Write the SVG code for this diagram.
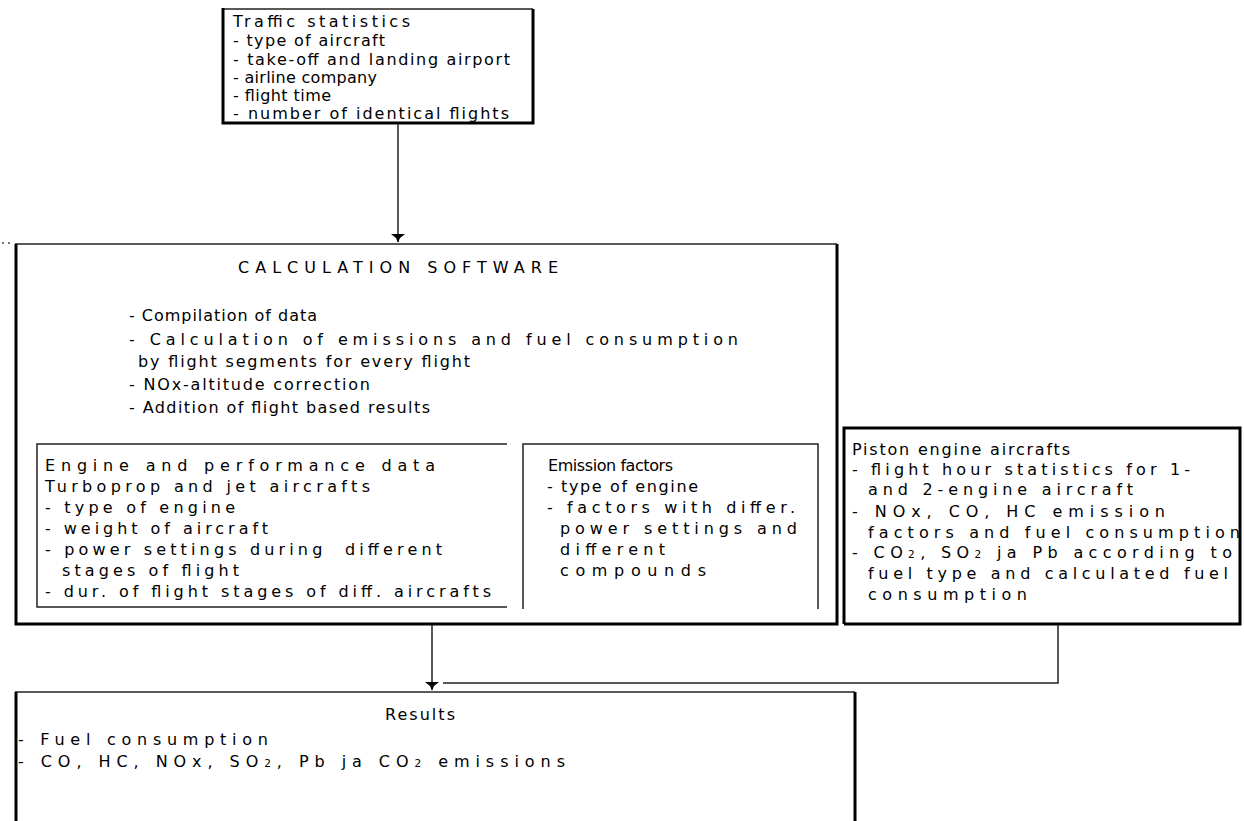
<svg xmlns="http://www.w3.org/2000/svg" width="1244" height="821" viewBox="0 0 1244 821">
<style>
text{font-family:"DejaVu Sans","Liberation Sans",Arial,sans-serif;font-size:16px;fill:#000}
.thin{stroke:#222;stroke-width:1.5;fill:none}
.thick{stroke:#000;stroke-width:3;fill:none}
.conn{stroke:#222;stroke-width:1.5;fill:none}
.sub{font-size:10.5px}
</style>
<defs>
<marker id="ah" markerWidth="16" markerHeight="10" refX="8" refY="9" orient="0" markerUnits="userSpaceOnUse" viewBox="0 0 16 10">
<path d="M1,1 L15,1 L10,5 L8,9.5 L6,5 Z" fill="#000"/>
</marker>
</defs>
<rect width="1244" height="821" fill="#fff"/>
<g id="dots"><circle cx="3" cy="243" r="0.9" fill="#333"/><circle cx="9" cy="243" r="0.9" fill="#333"/></g>

<g id="traffic">
<path class="thin" d="M223,9 H533"/>
<path class="thick" d="M223,8 V123 H533 V9"/>
<text x="233" y="27" textLength="177" lengthAdjust="spacing">Traffic statistics</text>
<text x="233" y="46" textLength="152" lengthAdjust="spacing">- type of aircraft</text>
<text x="233" y="65" textLength="277" lengthAdjust="spacing">- take-off and landing airport</text>
<text x="233" y="83" textLength="144" lengthAdjust="spacing">- airline company</text>
<text x="233" y="101" textLength="98" lengthAdjust="spacing">- flight time</text>
<text x="233" y="119" textLength="276" lengthAdjust="spacing">- number of identical flights</text>
</g>

<g id="calc">
<path class="thin" d="M15,244 H837"/>
<path class="thick" d="M16,244 V624 H837 V244"/>
<text x="238" y="273" textLength="320" lengthAdjust="spacing">CALCULATION SOFTWARE</text>
<text x="129" y="321" textLength="188" lengthAdjust="spacing">- Compilation of data</text>
<text x="129" y="345" textLength="609" lengthAdjust="spacing">- Calculation of emissions and fuel consumption</text>
<text x="138" y="367" textLength="332" lengthAdjust="spacing">by flight segments for every flight</text>
<text x="129" y="390" textLength="241" lengthAdjust="spacing">- NOx-altitude correction</text>
<text x="129" y="413" textLength="301" lengthAdjust="spacing">- Addition of flight based results</text>
</g>

<g id="engine">
<path class="thin" d="M507,444 H37 V607 H507"/>
<text x="45" y="471" textLength="390" lengthAdjust="spacing">Engine and performance data</text>
<text x="45" y="492" textLength="325" lengthAdjust="spacing">Turboprop and jet aircrafts</text>
<text x="45" y="513" textLength="190" lengthAdjust="spacing">- type of engine</text>
<text x="45" y="534" textLength="223" lengthAdjust="spacing">- weight of aircraft</text>
<text x="45" y="555" textLength="397" lengthAdjust="spacing" xml:space="preserve">- power settings during  different</text>
<text x="62" y="576" textLength="177" lengthAdjust="spacing">stages of flight</text>
<text x="45" y="597" textLength="446" lengthAdjust="spacing">- dur. of flight stages of diff. aircrafts</text>
</g>

<g id="emission">
<path class="thin" d="M523,609 V444 H818 V609"/>
<text x="548" y="471" textLength="125" lengthAdjust="spacing">Emission factors</text>
<text x="547" y="492" textLength="151" lengthAdjust="spacing">- type of engine</text>
<text x="547" y="513" textLength="248" lengthAdjust="spacing">- factors with differ.</text>
<text x="560" y="534" textLength="237" lengthAdjust="spacing">power settings and</text>
<text x="560" y="555" textLength="105" lengthAdjust="spacing">different</text>
<text x="560" y="576" textLength="146" lengthAdjust="spacing">compounds</text>
</g>

<g id="piston">
<path class="thick" d="M844,624 V428 H1240 V624 H844"/>
<text x="852" y="455" textLength="218" lengthAdjust="spacing">Piston engine aircrafts</text>
<text x="852" y="475" textLength="338" lengthAdjust="spacing">- flight hour statistics for 1-</text>
<text x="868" y="495" textLength="265" lengthAdjust="spacing">and 2-engine aircraft</text>
<text x="852" y="517" textLength="313" lengthAdjust="spacing">- NOx, CO, HC emission</text>
<text x="868" y="538" textLength="372" lengthAdjust="spacing">factors and fuel consumption</text>
<text x="852" y="558" textLength="380" lengthAdjust="spacing">- CO<tspan class="sub">2</tspan>, SO<tspan class="sub">2</tspan> ja Pb according to</text>
<text x="868" y="579" textLength="360" lengthAdjust="spacing">fuel type and calculated fuel</text>
<text x="868" y="600" textLength="159" lengthAdjust="spacing">consumption</text>
</g>

<g id="results">
<path class="thin" d="M15,692 H855"/>
<path class="thick" d="M16,692 V821 M855,692 V821"/>
<text x="385" y="720" textLength="70" lengthAdjust="spacing">Results</text>
<text x="18" y="745" textLength="250" lengthAdjust="spacing">- Fuel consumption</text>
<text x="18" y="767" textLength="547" lengthAdjust="spacing">- CO, HC, NOx, SO<tspan class="sub">2</tspan>, Pb ja CO<tspan class="sub">2</tspan> emissions</text>
</g>

<g id="connectors">
<path class="conn" d="M398,124 V242" marker-end="url(#ah)"/>
<path class="conn" d="M432,625 V690" marker-end="url(#ah)"/>
<path class="conn" d="M1058,625 V683 H443"/>
</g>
</svg>
